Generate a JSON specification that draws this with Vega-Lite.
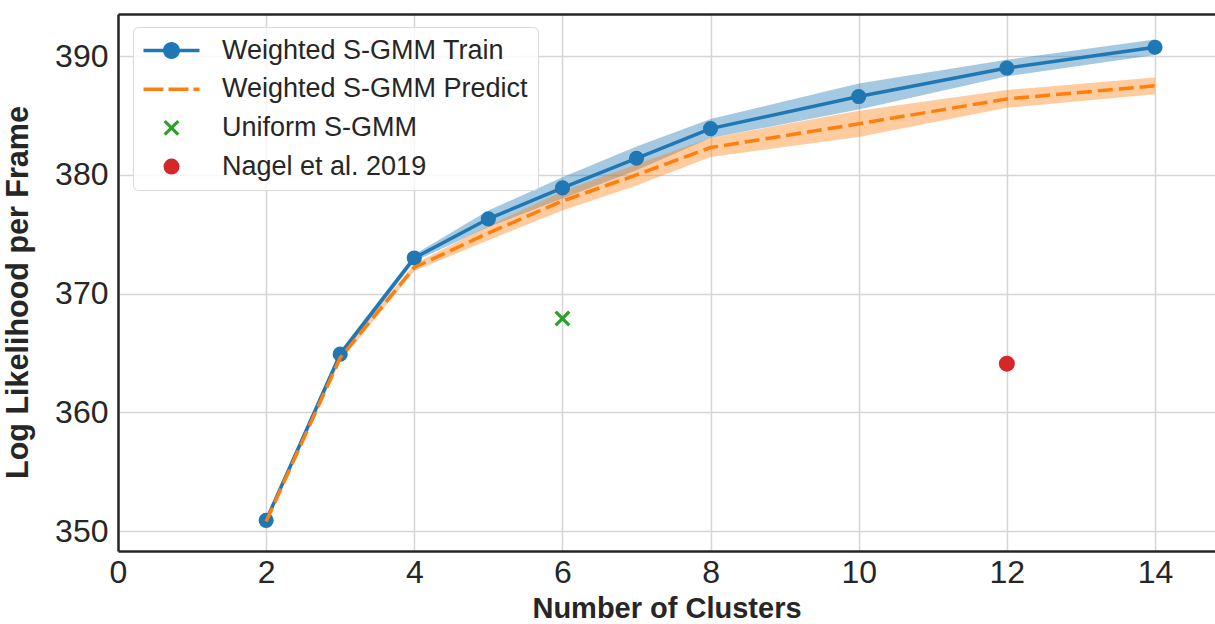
{
  "$schema": "https://vega.github.io/schema/vega-lite/v6.json",
  "width": 1097,
  "height": 537,
  "autosize": {"type": "none"},
  "padding": {"left": 118, "top": 14, "right": 0, "bottom": 73},
  "background": "white",
  "config": {
    "font": "Liberation Sans",
    "view": {"stroke": null},
    "axis": {
      "domain": true,
      "domainColor": "#262626",
      "domainWidth": 2.5,
      "ticks": false,
      "tickSize": 0,
      "grid": true,
      "gridColor": "#d5d5d5",
      "gridWidth": 1.5,
      "labelColor": "#262626",
      "labelFont": "Liberation Sans",
      "labelFontSize": 32,
      "labelFlush": false,
      "titleColor": "#262626",
      "titleFont": "Liberation Sans",
      "titleFontWeight": "bold"
    }
  },
  "resolve": {"axis": {"x": "independent", "y": "independent"}},
  "data": {
    "values": [
      {"k": 2, "series": "Weighted S-GMM Train", "y": 350.9, "lo": 350.7, "hi": 351.1},
      {"k": 3, "series": "Weighted S-GMM Train", "y": 364.9, "lo": 364.6, "hi": 365.2},
      {"k": 4, "series": "Weighted S-GMM Train", "y": 373.0, "lo": 372.7, "hi": 373.3},
      {"k": 5, "series": "Weighted S-GMM Train", "y": 376.3, "lo": 375.6, "hi": 377.0},
      {"k": 6, "series": "Weighted S-GMM Train", "y": 378.9, "lo": 378.0, "hi": 379.8},
      {"k": 7, "series": "Weighted S-GMM Train", "y": 381.4, "lo": 380.4, "hi": 382.4},
      {"k": 8, "series": "Weighted S-GMM Train", "y": 383.9, "lo": 383.1, "hi": 384.7},
      {"k": 10, "series": "Weighted S-GMM Train", "y": 386.6, "lo": 385.5, "hi": 387.7},
      {"k": 12, "series": "Weighted S-GMM Train", "y": 389.0, "lo": 388.3, "hi": 389.7},
      {"k": 14, "series": "Weighted S-GMM Train", "y": 390.75, "lo": 390.1, "hi": 391.4},
      {"k": 2, "series": "Weighted S-GMM Predict", "y": 350.8, "lo": 350.6, "hi": 351.0},
      {"k": 3, "series": "Weighted S-GMM Predict", "y": 364.6, "lo": 364.3, "hi": 364.9},
      {"k": 4, "series": "Weighted S-GMM Predict", "y": 372.2, "lo": 371.9, "hi": 372.5},
      {"k": 5, "series": "Weighted S-GMM Predict", "y": 375.1, "lo": 374.5, "hi": 375.7},
      {"k": 6, "series": "Weighted S-GMM Predict", "y": 377.8, "lo": 377.0, "hi": 378.6},
      {"k": 7, "series": "Weighted S-GMM Predict", "y": 380.0, "lo": 379.1, "hi": 380.9},
      {"k": 8, "series": "Weighted S-GMM Predict", "y": 382.3, "lo": 381.5, "hi": 383.1},
      {"k": 10, "series": "Weighted S-GMM Predict", "y": 384.3, "lo": 383.2, "hi": 385.4},
      {"k": 12, "series": "Weighted S-GMM Predict", "y": 386.4, "lo": 385.65, "hi": 387.15},
      {"k": 14, "series": "Weighted S-GMM Predict", "y": 387.5, "lo": 386.8, "hi": 388.2},
      {"k": 6, "series": "Uniform S-GMM", "y": 367.9},
      {"k": 12, "series": "Nagel et al. 2019", "y": 364.1}
    ]
  },
  "layer": [
    {
      "transform": [{"filter": "datum.series === 'Weighted S-GMM Train'"}],
      "mark": {"type": "area", "color": "#1f77b4", "opacity": 0.4},
      "encoding": {
        "x": {
          "field": "k",
          "type": "quantitative",
          "scale": {"domain": [0, 14.81], "nice": false, "zero": false},
          "axis": {"title": "Number of Clusters", "titleFontSize": 29, "values": [0, 2, 4, 6, 8, 10, 12, 14], "labelPadding": 6, "titlePadding": 6}
        },
        "y": {
          "field": "lo",
          "type": "quantitative",
          "scale": {"domain": [348.32, 393.55], "nice": false, "zero": false},
          "axis": {"title": "Log Likelihood per Frame", "titleFontSize": 30.5, "titleY": 278, "values": [350, 360, 370, 380, 390], "labelPadding": 10, "titlePadding": 21}
        },
        "y2": {"field": "hi"}
      }
    },
    {
      "transform": [{"filter": "datum.series === 'Weighted S-GMM Predict'"}],
      "mark": {"type": "area", "color": "#ff7f0e", "opacity": 0.4},
      "encoding": {
        "x": {
          "field": "k",
          "type": "quantitative",
          "scale": {"domain": [0, 14.81], "nice": false, "zero": false},
          "axis": {"orient": "top", "title": null, "labels": false, "grid": false, "ticks": false, "domain": true}
        },
        "y": {
          "field": "lo",
          "type": "quantitative",
          "scale": {"domain": [348.32, 393.55], "nice": false, "zero": false},
          "axis": null
        },
        "y2": {"field": "hi"}
      }
    },
    {
      "transform": [{"filter": "datum.series === 'Weighted S-GMM Train'"}],
      "mark": {"type": "line", "color": "#1f77b4", "strokeWidth": 3.5},
      "encoding": {
        "x": {"field": "k", "type": "quantitative", "scale": {"domain": [0, 14.81], "nice": false, "zero": false}, "axis": null},
        "y": {"field": "y", "type": "quantitative", "scale": {"domain": [348.32, 393.55], "nice": false, "zero": false}, "axis": null}
      }
    },
    {
      "transform": [{"filter": "datum.series === 'Weighted S-GMM Train'"}],
      "mark": {"type": "point", "filled": true, "color": "#1f77b4", "opacity": 1, "size": 230, "shape": "circle"},
      "encoding": {
        "x": {"field": "k", "type": "quantitative", "scale": {"domain": [0, 14.81], "nice": false, "zero": false}, "axis": null},
        "y": {"field": "y", "type": "quantitative", "scale": {"domain": [348.32, 393.55], "nice": false, "zero": false}, "axis": null}
      }
    },
    {
      "transform": [{"filter": "datum.series === 'Weighted S-GMM Predict'"}],
      "mark": {"type": "line", "color": "#ff7f0e", "strokeWidth": 3.5, "strokeDash": [15, 6]},
      "encoding": {
        "x": {"field": "k", "type": "quantitative", "scale": {"domain": [0, 14.81], "nice": false, "zero": false}, "axis": null},
        "y": {"field": "y", "type": "quantitative", "scale": {"domain": [348.32, 393.55], "nice": false, "zero": false}, "axis": null}
      }
    },
    {
      "transform": [{"filter": "datum.series === 'Uniform S-GMM' || datum.series === 'Nagel et al. 2019'"}],
      "mark": {"type": "point", "filled": true, "opacity": 1, "size": 256, "strokeWidth": 0},
      "encoding": {
        "x": {"field": "k", "type": "quantitative", "scale": {"domain": [0, 14.81], "nice": false, "zero": false}, "axis": null},
        "y": {"field": "y", "type": "quantitative", "scale": {"domain": [348.32, 393.55], "nice": false, "zero": false}, "axis": null},
        "color": {
          "field": "series",
          "type": "nominal",
          "scale": {
            "domain": ["Weighted S-GMM Train", "Weighted S-GMM Predict", "Uniform S-GMM", "Nagel et al. 2019"],
            "range": ["#1f77b4", "#ff7f0e", "#2ca02c", "#d62728"]
          },
          "legend": {"title": null, "orient": "none", "legendX": 15, "legendY": 13, "padding": 10, "symbolSize": 256, "symbolStrokeWidth": 0, "symbolOffset": 15, "labelOffset": 37, "labelFontSize": 27, "labelFont": "Liberation Sans", "labelColor": "#262626", "labelLimit": 1000, "rowPadding": 10.7, "fillColor": "rgba(255,255,255,0.8)", "strokeColor": "#d9d9d9", "cornerRadius": 5, "symbolOpacity": 1}
        },
        "shape": {
          "field": "series",
          "type": "nominal",
          "scale": {
            "domain": ["Weighted S-GMM Train", "Weighted S-GMM Predict", "Uniform S-GMM", "Nagel et al. 2019"],
            "range": [
              "M-3.5,-0.22H3.5V0.22H-3.5Z M1.06,0 A1.06,1.06 0 1,1 -1.06,0 A1.06,1.06 0 1,1 1.06,0 Z",
              "M-3.5,-0.22H-1V0.22H-3.5Z M-0.375,-0.22H2.125V0.22H-0.375Z M2.75,-0.22H3.5V0.22H2.75Z",
              "M-0.71,-0.99L0.99,0.71L0.71,0.99L-0.99,-0.71Z M-0.99,0.71L0.71,-0.99L0.99,-0.71L-0.71,0.99Z",
              "circle"
            ]
          },
          "legend": {"title": null, "orient": "none", "legendX": 15, "legendY": 13, "padding": 10, "symbolSize": 256, "symbolStrokeWidth": 0, "symbolOffset": 15, "labelOffset": 37, "labelFontSize": 27, "labelFont": "Liberation Sans", "labelColor": "#262626", "labelLimit": 1000, "rowPadding": 10.7, "fillColor": "rgba(255,255,255,0.8)", "strokeColor": "#d9d9d9", "cornerRadius": 5, "symbolOpacity": 1}
        }
      }
    }
  ]
}
